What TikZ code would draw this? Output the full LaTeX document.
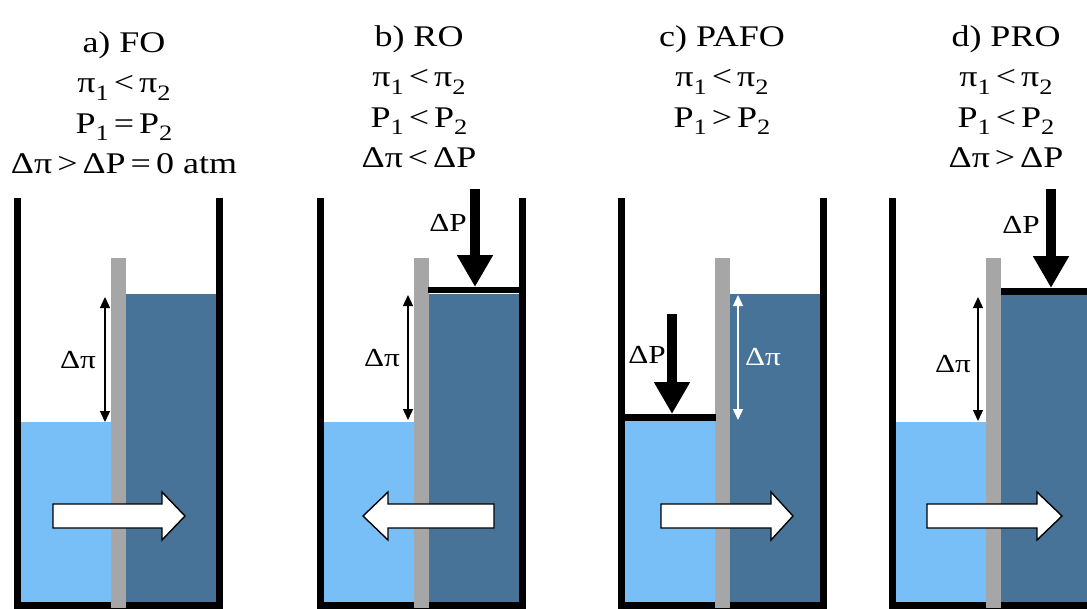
\documentclass[tikz,border=0pt]{standalone}
\usepackage{fontspec}
\setmainfont{Liberation Serif}[FakeStretch=1.2]
\usetikzlibrary{arrows.meta}
\definecolor{FeedBlue}{HTML}{79BFF7}
\definecolor{DrawBlue}{HTML}{467397}
\definecolor{MembGray}{HTML}{A6A6A6}
\newcommand{\lowix}[1]{\raisebox{-7.5pt}{\fontsize{22}{22}\selectfont #1}}

\tikzset{
    wall/.style={line width=7pt, line join=miter},
    piston/.style={line width=6.5pt},
    heading/.style={align=center, font=\fontsize{30}{40.5}\selectfont, inner sep=0pt, anchor=north},
    lbl/.style={font=\fontsize{26}{26}\selectfont, inner sep=0pt},
    dpi/.style={line width=1.3pt, {Triangle[width=10pt,length=11pt]}-{Triangle[width=10pt,length=11pt]}},
    dp/.style={line width=10pt, -{Triangle[width=34pt,length=32pt]}},
    flow/.style={fill=white, draw=black, line width=1.4pt, line join=miter}
}

\begin{document}
\begin{tikzpicture}[x=1pt, y=-1pt]
    \useasboundingbox (0,0) rectangle (1087,608);
    % vessels, membranes and flow arrows
    \foreach \ox/\lt/\fa/\fb/\fc [count=\i] in {13/422/40/149/172, 316/422/178/72/47, 617/421/44/154/176, 888/422/39/149/174} {
        \begin{scope}[shift={(\ox,0)}]
            \fill[FeedBlue] (8,\lt) rectangle (98,605);
            \fill[DrawBlue] (113,294) rectangle (203,605);
            \draw[wall] (4,198) -- (4,605.5) -- (206.5,605.5) -- (206.5,198);
            \fill[MembGray] (98,258) rectangle (113,608);
            \draw[flow] (\fa,504) -- (\fb,504) -- (\fb,492) -- (\fc,516) -- (\fb,540) -- (\fb,528) -- (\fa,528) -- cycle;
        \end{scope}
    }

    % headings
    \node[heading] (ha) at (124,31) {a) FO\\ π\lowix{1}\,<\,π\lowix{2}\\ P\lowix{1}\,=\,P\lowix{2}\\ Δπ\,>\,ΔP\,=\,0 atm};
    \node[heading] (hb) at (419,25) {b) RO\\ π\lowix{1}\,<\,π\lowix{2}\\ P\lowix{1}\,<\,P\lowix{2}\\ Δπ\,<\,ΔP};
    \node[heading] (hc) at (722,25) {c) PAFO\\ π\lowix{1}\,<\,π\lowix{2}\\ P\lowix{1}\,>\,P\lowix{2}};
    \node[heading] (hd) at (1006,25) {d) PRO\\ π\lowix{1}\,<\,π\lowix{2}\\ P\lowix{1}\,<\,P\lowix{2}\\ Δπ\,>\,ΔP};

    % a) FO
    \coordinate (a-pt) at (105,297);
    \coordinate (a-pb) at (105,422);
    \draw[dpi] (a-pt) -- (a-pb);
    \node[lbl] (a-dpi) at (78,360) {Δπ};

    % b) RO
    \coordinate (b-pt) at (408,295);
    \coordinate (b-pb) at (408,420);
    \draw[dpi] (b-pt) -- (b-pb);
    \node[lbl] (b-dpi) at (382,358) {Δπ};
    \coordinate (b-kl) at (428,290);
    \coordinate (b-kr) at (519,290);
    \draw[piston] (b-kl) -- (b-kr);
    \coordinate (b-at) at (475,189);
    \coordinate (b-ab) at (475,287);
    \draw[dp] (b-at) -- (b-ab);
    \node[lbl] (b-dp) at (448,223) {ΔP};

    % c) PAFO
    \coordinate (c-pt) at (738,295);
    \coordinate (c-pb) at (738,420);
    \draw[dpi, white] (c-pt) -- (c-pb);
    \node[lbl, white] (c-dpi) at (763,357) {Δπ};
    \coordinate (c-kl) at (624,417.5);
    \coordinate (c-kr) at (716,417.5);
    \draw[piston] (c-kl) -- (c-kr);
    \coordinate (c-at) at (672,314);
    \coordinate (c-ab) at (672,414);
    \draw[dp] (c-at) -- (c-ab);
    \node[lbl] (c-dp) at (647,355) {ΔP};

    % d) PRO
    \coordinate (d-pt) at (978,297);
    \coordinate (d-pb) at (978,421);
    \draw[dpi] (d-pt) -- (d-pb);
    \node[lbl] (d-dpi) at (953,364) {Δπ};
    \coordinate (d-kl) at (1001,291.5);
    \coordinate (d-kr) at (1090,291.5);
    \draw[piston] (d-kl) -- (d-kr);
    \coordinate (d-at) at (1051,189);
    \coordinate (d-ab) at (1051,288);
    \draw[dp] (d-at) -- (d-ab);
    \node[lbl] (d-dp) at (1021,225) {ΔP};
\end{tikzpicture}
\end{document}
